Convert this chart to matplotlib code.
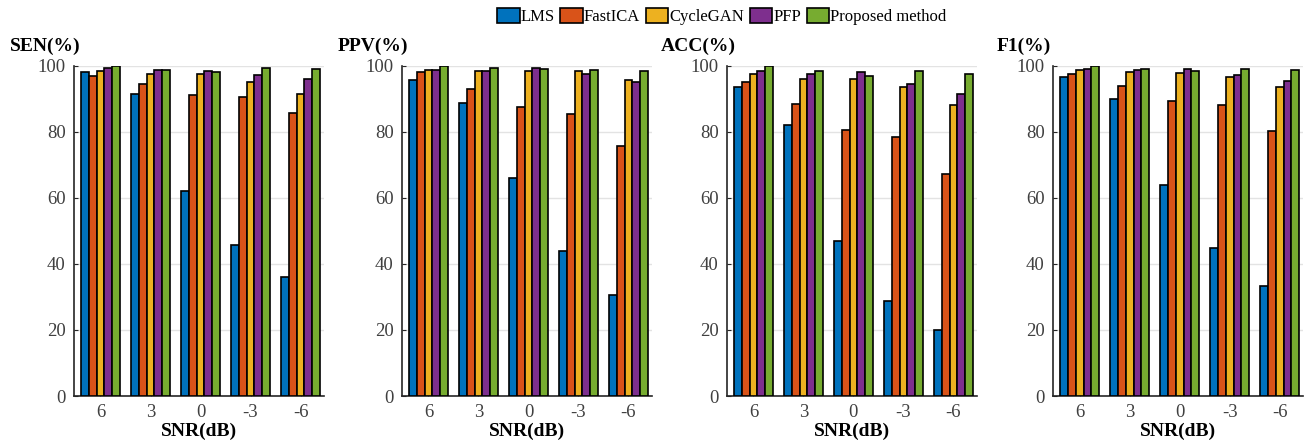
import numpy as np
import matplotlib
matplotlib.use("Agg")
import matplotlib.pyplot as plt

plt.rcParams['font.family'] = ['Liberation Serif', 'DejaVu Serif']

snr_labels = ['6', '3', '0', '-3', '-6']
methods = ['LMS', 'FastICA', 'CycleGAN', 'PFP', 'Proposed method']
colors = ['#0072BD', '#D95319', '#EDB120', '#7E2F8E', '#77AC30']
metric_titles = ['SEN(%)', 'PPV(%)', 'ACC(%)', 'F1(%)']

# rows: methods, columns: SNR 6, 3, 0, -3, -6
sen = [[98.0, 91.6, 62.1, 45.8, 36.1],
       [97.0, 94.6, 91.1, 90.6, 85.6],
       [98.5, 97.5, 97.5, 95.0, 91.6],
       [99.3, 98.8, 98.5, 97.1, 96.1],
       [99.9, 98.8, 98.0, 99.3, 99.0]]
ppv = [[95.7, 88.6, 65.9, 43.8, 30.7],
       [98.0, 93.1, 87.6, 85.5, 75.7],
       [98.8, 98.5, 98.5, 98.5, 95.8],
       [98.8, 98.5, 99.3, 97.5, 95.0],
       [99.9, 99.3, 99.0, 98.8, 98.5]]
acc = [[93.7, 82.0, 47.0, 28.8, 19.9],
       [95.1, 88.4, 80.7, 78.6, 67.3],
       [97.4, 96.0, 96.0, 93.6, 88.1],
       [98.4, 97.4, 98.0, 94.6, 91.5],
       [99.9, 98.4, 97.0, 98.4, 97.6]]
f1 = [[96.7, 90.1, 64.0, 44.8, 33.2],
      [97.4, 93.8, 89.4, 88.0, 80.3],
      [98.6, 98.0, 97.9, 96.6, 93.6],
      [99.1, 98.6, 98.9, 97.2, 95.5],
      [99.9, 99.1, 98.4, 99.1, 98.7]]

fig = plt.figure(figsize=(13.05, 4.42), dpi=100)
lefts = [0.0567, 0.308, 0.557, 0.807]
x = np.arange(1, 6)
bw = 0.155

for left, title, data in zip(lefts, metric_titles, [sen, ppv, acc, f1]):
    ax = fig.add_axes([left, 0.104, 0.1916, 0.747])
    for i, (m, c) in enumerate(zip(methods, colors)):
        ax.bar(x + (i - 2) * bw, data[i], width=bw, color=c, edgecolor='black',
               linewidth=1.2, label=m, zorder=3)
    ax.set_xlim(0.47, 5.47)
    ax.set_ylim(0, 100)
    ax.set_yticks(range(0, 101, 20))
    ax.set_xticks(x)
    ax.set_xticklabels(snr_labels)
    ax.yaxis.grid(True, color='#e3e3e3', linewidth=1.0, zorder=0)
    ax.set_axisbelow(True)
    for s in ['top', 'right']:
        ax.spines[s].set_visible(False)
    for s in ['left', 'bottom']:
        ax.spines[s].set_linewidth(1.2)
        ax.spines[s].set_color('#262626')
    ax.tick_params(direction='in', length=3, labelsize=13.5, colors='#262626',
                   labelcolor='#404040', pad=6)
    ax.set_xlabel('SNR(dB)', fontsize=14, fontweight='bold', labelpad=1)
    ax.text(-0.116, 1.06, title, transform=ax.transAxes, ha='center', va='center',
            fontsize=14, fontweight='bold')

handles, labels = ax.get_legend_handles_labels()
fig.legend(handles, labels, loc='center', bbox_to_anchor=(0.553, 0.962), ncol=5,
           frameon=False, fontsize=12, handlelength=1.35, handleheight=0.95,
           handletextpad=0.05, columnspacing=0.35)

fig.savefig('out.png', dpi=100)
